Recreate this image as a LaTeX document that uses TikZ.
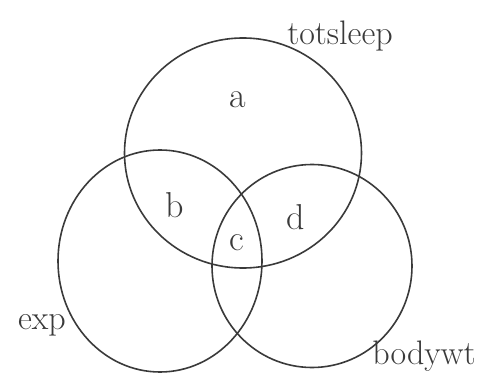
\documentclass[tikz,border=0pt]{standalone}
\usepackage{tikz}
\usetikzlibrary{shapes.geometric}
\definecolor{pencil}{HTML}{3A3A3A}

\begin{document}
\begin{tikzpicture}[x=1pt,y=-1pt,
  ring/.style={draw=pencil,line width=1.6pt,ellipse,inner sep=0pt},
  lbl/.style={text=pencil,font=\fontsize{34}{38}\selectfont,inner sep=0pt},
  reg/.style={text=pencil,font=\fontsize{36}{40}\selectfont,inner sep=0pt}]
\useasboundingbox (0,0) rectangle (490,390);
% the three sets
\node[ring,minimum width=237pt,minimum height=230pt](sleep) at (243,153){};
\node[ring,minimum width=204pt,minimum height=222pt](exp) at (160,261){};
\node[ring,minimum width=200pt,minimum height=203pt](wt) at (312,266){};
% set names
\node[lbl](sleeplbl) at (340,36){totsleep};
\node[lbl](explbl) at (42,325){exp};
\node[lbl](wtlbl) at (424,356){bodywt};
% regions
\node[reg](ra) at (238,100){a};
\node[reg](rb) at (175,205){b};
\node[reg](rc) at (237,243){c};
\node[reg](rd) at (296,217){d};
\end{tikzpicture}
\end{document}
